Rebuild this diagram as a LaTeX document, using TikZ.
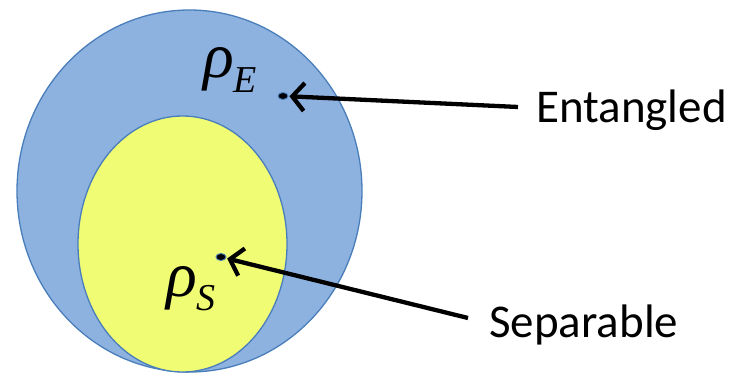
\documentclass[tikz,border=0pt]{standalone}
\usepackage{fontspec}
\setmainfont{Carlito}
\newfontfamily\tnr{Liberation Serif}
\usetikzlibrary{arrows.meta,shapes.geometric}
\definecolor{bluefill}{RGB}{141,178,224}
\definecolor{blueline}{RGB}{74,126,187}
\definecolor{yellowfill}{RGB}{240,252,116}
\tikzset{
  setshape/.style={draw=blueline, line width=1.3pt},
  statedot/.style={ellipse, draw=blueline, fill=black, line width=0.9pt, minimum width=10pt, minimum height=7pt, inner sep=0pt},
  pointer/.style={line width=4.3pt, black, -{Straight Barb[length=12pt, width=28pt, line width=4.3pt]}, shorten >=1pt},
  lbl/.style={font=\fontsize{47}{52}\selectfont, inner sep=0pt},
  greek/.style={inner sep=0pt, font=\tnr\itshape\fontsize{64}{66}\selectfont}
}
\begin{document}
\begin{tikzpicture}[x=1pt,y=-1pt]
\useasboundingbox (0,0) rectangle (731,377);
\fill[bluefill] (189.5,191) ellipse [x radius=172.5, y radius=181];
\draw[setshape] (189.5,191) ellipse [x radius=172.5, y radius=181];
\fill[yellowfill] (182.5,244) ellipse [x radius=104.5, y radius=128];
\draw[setshape] (182.5,244) ellipse [x radius=104.5, y radius=128];

\node[greek] (rhoE) at (230,70) {ρ\raisebox{-0.22em}{\fontsize{38}{40}\selectfont E}};
\node[greek] (rhoS) at (191,289) {ρ\raisebox{-0.22em}{\fontsize{38}{40}\selectfont S}};

\node[statedot] (edot) at (283,96) {};
\node[statedot] (sdot) at (221,257) {};

\node[lbl, anchor=west] (ent) at (536,110) {Entangled};
\node[lbl, anchor=west] (sep) at (489,325) {Separable};

\coordinate (entstart) at (518,107);
\coordinate (sepstart) at (468,318);
\draw[pointer] (entstart) -- (edot);
\draw[pointer] (sepstart) -- (sdot);
\end{tikzpicture}
\end{document}
